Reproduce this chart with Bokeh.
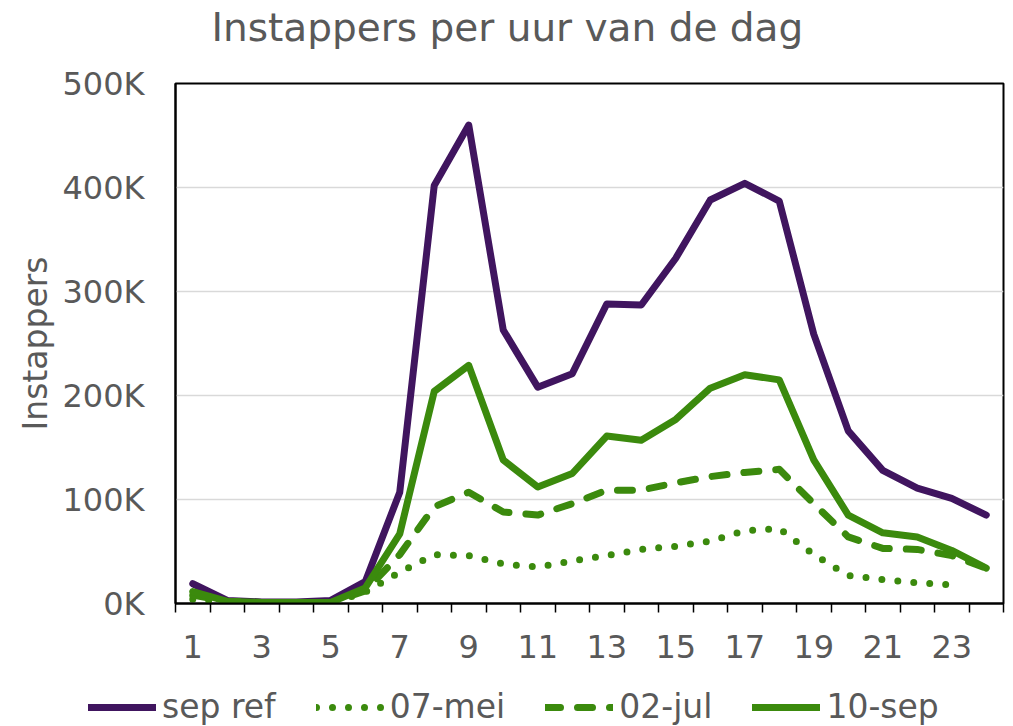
from bokeh.plotting import figure
from bokeh.models import (ColumnDataSource, Range1d, FixedTicker, PrintfTickFormatter,
                          Legend, LegendItem, Label)
from bokeh.embed import file_html
from bokeh.resources import INLINE
import numpy as np

hours = list(range(1, 25))
# values in thousands (K)
sep_ref = [19, 3, 1.5, 1.5, 3, 21, 107, 402, 460, 263, 208, 221, 288, 287, 332, 388, 404, 387, 259, 166, 128, 111, 101, 85]
mei_07 = [4, 1, 0.5, 0.5, 0.5, 11, 30, 47, 46, 38, 35, 41, 46, 52, 55, 60, 70, 72, 47, 27, 23, 20, 18, np.nan]
jul_02 = [8, 2, 1, 1, 1, 12, 47, 93, 107, 88, 85, 96, 109, 109, 116, 122, 126, 129, 96, 64, 53, 52, 46, 34]
sep_10 = [11.5, 2, 1, 1, 1, 15, 67, 204, 229, 138, 112, 125, 161, 157, 177, 207, 220, 215, 138, 85, 68, 64, 51, 34]
series_names = ["sep ref", "07-mei", "02-jul", "10-sep"]

x_tick_labels = [1, 3, 5, 7, 9, 11, 13, 15, 17, 19, 21, 23]
y_ticks = [0, 100, 200, 300, 400, 500]
title_text = "Instappers per uur van de dag"

PURPLE = "#40155F"
GREEN = "#3B8A0D"
TXT = "#595959"
FONT = "DejaVu Sans"
W = 1013
H_TITLE, H_MAIN, H_LEG = 50, 630, 46


def blank_fig(h, xr, yr):
    f = figure(width=W, height=h, output_backend="svg", toolbar_location=None, title=None,
               x_range=xr, y_range=yr, x_axis_type=None, y_axis_type=None,
               min_border_left=0, min_border_right=0, min_border_top=0, min_border_bottom=0)
    f.outline_line_color = None
    f.xgrid.visible = False
    f.ygrid.visible = False
    return f


# ---- title strip
pt = blank_fig(H_TITLE, Range1d(0, W), Range1d(0, H_TITLE))
pt.add_layout(Label(x=211, y=H_TITLE - 27, text=title_text, text_font=FONT,
                    text_font_size="39px", text_color=TXT, text_baseline="middle",
                    text_align="left"))

# ---- main chart
src = ColumnDataSource(dict(x=hours, sep_ref=sep_ref, mei_07=mei_07, jul_02=jul_02, sep_10=sep_10))

p = figure(width=W, height=H_MAIN, output_backend="svg", toolbar_location=None, title=None,
           x_range=Range1d(0.5, 24.5), y_range=Range1d(0, 500),
           min_border_left=175, min_border_right=10, min_border_top=83 - H_TITLE,
           min_border_bottom=H_MAIN - (603 - H_TITLE))

p.outline_line_color = "black"
p.outline_line_width = 2
p.background_fill_color = "white"
p.border_fill_color = "white"

p.xgrid.visible = False
p.ygrid.grid_line_color = "#D9D9D9"
p.ygrid.grid_line_width = 1.5
p.ygrid.ticker = FixedTicker(ticks=y_ticks)

xa = p.xaxis[0]
xa.ticker = FixedTicker(ticks=x_tick_labels, minor_ticks=[h - 0.5 for h in hours] + [24.5])
xa.major_tick_in = 0
xa.major_tick_out = 0
xa.minor_tick_in = 0
xa.minor_tick_out = 9
xa.minor_tick_line_color = "black"
xa.minor_tick_line_width = 1.5
xa.axis_line_color = "black"
xa.axis_line_width = 2
xa.major_label_text_font = FONT
xa.major_label_text_font_size = "32px"
xa.major_label_text_color = TXT
xa.major_label_standoff = 22

ya = p.yaxis[0]
ya.ticker = FixedTicker(ticks=y_ticks)
ya.formatter = PrintfTickFormatter(format="%dK")
ya.major_tick_in = 0
ya.major_tick_out = 0
ya.minor_tick_out = 0
ya.minor_tick_in = 0
ya.axis_line_color = "black"
ya.axis_line_width = 2
ya.major_label_text_font = FONT
ya.major_label_text_font_size = "32px"
ya.major_label_text_color = TXT
ya.major_label_standoff = 31
ya.axis_label = "Instappers"
ya.axis_label_text_font = FONT
ya.axis_label_text_font_size = "33px"
ya.axis_label_text_font_style = "normal"
ya.axis_label_text_color = TXT
ya.axis_label_standoff = 4

cols = ["sep_ref", "mei_07", "jul_02", "sep_10"]
styles = [dict(line_color=PURPLE),
          dict(line_color=GREEN, line_dash="0 16"),
          dict(line_color=GREEN, line_dash="15 17"),
          dict(line_color=GREEN)]
common = dict(line_width=7, line_cap="round", line_join="round")
for col, st in zip(cols, styles):
    p.line("x", col, source=src, **st, **common)

# ---- legend strip: same series, drawn outside its (empty) view, used only for the swatches
pl = blank_fig(H_LEG, Range1d(100, 101), Range1d(1000, 1001))
items = []
for name, col, st in zip(series_names, cols, styles):
    r = pl.line("x", col, source=src, **st, **common)
    items.append(LegendItem(label=name, renderers=[r]))
legend = Legend(items=items, orientation="horizontal", location=(88, 0),
                label_text_font=FONT, label_text_font_size="33px", label_text_color=TXT,
                glyph_width=68, glyph_height=20, label_standoff=6, spacing=40,
                padding=0, margin=0, border_line_color=None, background_fill_alpha=0)
pl.add_layout(legend, "center")

open("out.html", "w").write(file_html([pt, p, pl], INLINE))
